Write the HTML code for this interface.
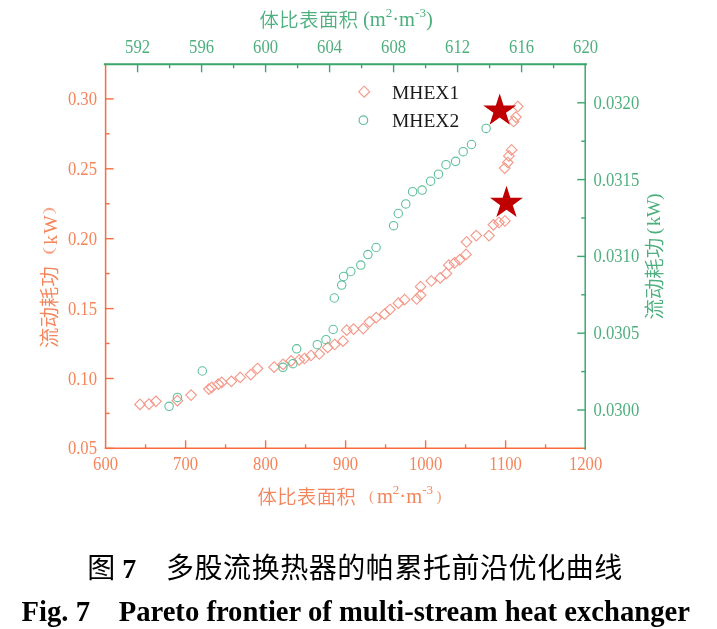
<!DOCTYPE html>
<html><head><meta charset="utf-8"><style>
html,body{margin:0;padding:0;background:#fff;width:717px;height:629px;overflow:hidden}
svg{display:block;will-change:transform}
</style></head><body>
<svg width="717" height="629" viewBox="0 0 717 629">
<g stroke-linecap="square">
<line x1="105.6" y1="448.3" x2="105.6" y2="64.3" stroke="#f96c3e" stroke-width="1.5"/>
<line x1="105.6" y1="448.3" x2="585.2" y2="448.3" stroke="#f96c3e" stroke-width="1.5"/>
<line x1="104.85" y1="64.3" x2="585.95" y2="64.3" stroke="#3aa76d" stroke-width="2"/>
<line x1="585.2" y1="64.3" x2="585.2" y2="449.05" stroke="#3aa76d" stroke-width="1.5"/>
</g>
<line x1="145.6" y1="448.3" x2="145.6" y2="444.3" stroke="#f96c3e" stroke-width="1.4"/>
<line x1="185.6" y1="448.3" x2="185.6" y2="440.3" stroke="#f96c3e" stroke-width="1.4"/>
<line x1="225.6" y1="448.3" x2="225.6" y2="444.3" stroke="#f96c3e" stroke-width="1.4"/>
<line x1="265.6" y1="448.3" x2="265.6" y2="440.3" stroke="#f96c3e" stroke-width="1.4"/>
<line x1="305.6" y1="448.3" x2="305.6" y2="444.3" stroke="#f96c3e" stroke-width="1.4"/>
<line x1="345.6" y1="448.3" x2="345.6" y2="440.3" stroke="#f96c3e" stroke-width="1.4"/>
<line x1="385.6" y1="448.3" x2="385.6" y2="444.3" stroke="#f96c3e" stroke-width="1.4"/>
<line x1="425.6" y1="448.3" x2="425.6" y2="440.3" stroke="#f96c3e" stroke-width="1.4"/>
<line x1="465.6" y1="448.3" x2="465.6" y2="444.3" stroke="#f96c3e" stroke-width="1.4"/>
<line x1="505.6" y1="448.3" x2="505.6" y2="440.3" stroke="#f96c3e" stroke-width="1.4"/>
<line x1="545.6" y1="448.3" x2="545.6" y2="444.3" stroke="#f96c3e" stroke-width="1.4"/>
<line x1="105.6" y1="448.4" x2="113.6" y2="448.4" stroke="#f96c3e" stroke-width="1.4"/>
<line x1="105.6" y1="413.4" x2="109.6" y2="413.4" stroke="#f96c3e" stroke-width="1.4"/>
<line x1="105.6" y1="378.5" x2="113.6" y2="378.5" stroke="#f96c3e" stroke-width="1.4"/>
<line x1="105.6" y1="343.5" x2="109.6" y2="343.5" stroke="#f96c3e" stroke-width="1.4"/>
<line x1="105.6" y1="308.6" x2="113.6" y2="308.6" stroke="#f96c3e" stroke-width="1.4"/>
<line x1="105.6" y1="273.6" x2="109.6" y2="273.6" stroke="#f96c3e" stroke-width="1.4"/>
<line x1="105.6" y1="238.7" x2="113.6" y2="238.7" stroke="#f96c3e" stroke-width="1.4"/>
<line x1="105.6" y1="203.7" x2="109.6" y2="203.7" stroke="#f96c3e" stroke-width="1.4"/>
<line x1="105.6" y1="168.8" x2="113.6" y2="168.8" stroke="#f96c3e" stroke-width="1.4"/>
<line x1="105.6" y1="133.8" x2="109.6" y2="133.8" stroke="#f96c3e" stroke-width="1.4"/>
<line x1="105.6" y1="98.9" x2="113.6" y2="98.9" stroke="#f96c3e" stroke-width="1.4"/>
<line x1="137.6" y1="64.3" x2="137.6" y2="72.3" stroke="#3aa76d" stroke-width="1.4"/>
<line x1="169.6" y1="64.3" x2="169.6" y2="68.3" stroke="#3aa76d" stroke-width="1.4"/>
<line x1="201.6" y1="64.3" x2="201.6" y2="72.3" stroke="#3aa76d" stroke-width="1.4"/>
<line x1="233.6" y1="64.3" x2="233.6" y2="68.3" stroke="#3aa76d" stroke-width="1.4"/>
<line x1="265.6" y1="64.3" x2="265.6" y2="72.3" stroke="#3aa76d" stroke-width="1.4"/>
<line x1="297.6" y1="64.3" x2="297.6" y2="68.3" stroke="#3aa76d" stroke-width="1.4"/>
<line x1="329.6" y1="64.3" x2="329.6" y2="72.3" stroke="#3aa76d" stroke-width="1.4"/>
<line x1="361.6" y1="64.3" x2="361.6" y2="68.3" stroke="#3aa76d" stroke-width="1.4"/>
<line x1="393.6" y1="64.3" x2="393.6" y2="72.3" stroke="#3aa76d" stroke-width="1.4"/>
<line x1="425.6" y1="64.3" x2="425.6" y2="68.3" stroke="#3aa76d" stroke-width="1.4"/>
<line x1="457.6" y1="64.3" x2="457.6" y2="72.3" stroke="#3aa76d" stroke-width="1.4"/>
<line x1="489.6" y1="64.3" x2="489.6" y2="68.3" stroke="#3aa76d" stroke-width="1.4"/>
<line x1="521.6" y1="64.3" x2="521.6" y2="72.3" stroke="#3aa76d" stroke-width="1.4"/>
<line x1="553.6" y1="64.3" x2="553.6" y2="68.3" stroke="#3aa76d" stroke-width="1.4"/>
<line x1="585.2" y1="410.0" x2="577.2" y2="410.0" stroke="#3aa76d" stroke-width="1.4"/>
<line x1="585.2" y1="371.6" x2="581.2" y2="371.6" stroke="#3aa76d" stroke-width="1.4"/>
<line x1="585.2" y1="333.2" x2="577.2" y2="333.2" stroke="#3aa76d" stroke-width="1.4"/>
<line x1="585.2" y1="294.8" x2="581.2" y2="294.8" stroke="#3aa76d" stroke-width="1.4"/>
<line x1="585.2" y1="256.4" x2="577.2" y2="256.4" stroke="#3aa76d" stroke-width="1.4"/>
<line x1="585.2" y1="218.0" x2="581.2" y2="218.0" stroke="#3aa76d" stroke-width="1.4"/>
<line x1="585.2" y1="179.6" x2="577.2" y2="179.6" stroke="#3aa76d" stroke-width="1.4"/>
<line x1="585.2" y1="141.2" x2="581.2" y2="141.2" stroke="#3aa76d" stroke-width="1.4"/>
<line x1="585.2" y1="102.8" x2="577.2" y2="102.8" stroke="#3aa76d" stroke-width="1.4"/>
<g font-family="Liberation Serif, serif" font-size="18.5">
<text transform="translate(105.6,470.0) scale(0.9,1)" text-anchor="middle" fill="#f4845a">600</text>
<text transform="translate(185.6,470.0) scale(0.9,1)" text-anchor="middle" fill="#f4845a">700</text>
<text transform="translate(265.6,470.0) scale(0.9,1)" text-anchor="middle" fill="#f4845a">800</text>
<text transform="translate(345.6,470.0) scale(0.9,1)" text-anchor="middle" fill="#f4845a">900</text>
<text transform="translate(425.6,470.0) scale(0.9,1)" text-anchor="middle" fill="#f4845a">1000</text>
<text transform="translate(505.6,470.0) scale(0.9,1)" text-anchor="middle" fill="#f4845a">1100</text>
<text transform="translate(585.6,470.0) scale(0.9,1)" text-anchor="middle" fill="#f4845a">1200</text>
<text transform="translate(97.0,454.4) scale(0.9,1)" text-anchor="end" fill="#f4845a">0.05</text>
<text transform="translate(97.0,384.5) scale(0.9,1)" text-anchor="end" fill="#f4845a">0.10</text>
<text transform="translate(97.0,314.6) scale(0.9,1)" text-anchor="end" fill="#f4845a">0.15</text>
<text transform="translate(97.0,244.7) scale(0.9,1)" text-anchor="end" fill="#f4845a">0.20</text>
<text transform="translate(97.0,174.8) scale(0.9,1)" text-anchor="end" fill="#f4845a">0.25</text>
<text transform="translate(97.0,104.9) scale(0.9,1)" text-anchor="end" fill="#f4845a">0.30</text>
<text transform="translate(137.6,53.0) scale(0.9,1)" text-anchor="middle" fill="#4caf7d">592</text>
<text transform="translate(201.6,53.0) scale(0.9,1)" text-anchor="middle" fill="#4caf7d">596</text>
<text transform="translate(265.6,53.0) scale(0.9,1)" text-anchor="middle" fill="#4caf7d">600</text>
<text transform="translate(329.6,53.0) scale(0.9,1)" text-anchor="middle" fill="#4caf7d">604</text>
<text transform="translate(393.6,53.0) scale(0.9,1)" text-anchor="middle" fill="#4caf7d">608</text>
<text transform="translate(457.6,53.0) scale(0.9,1)" text-anchor="middle" fill="#4caf7d">612</text>
<text transform="translate(521.6,53.0) scale(0.9,1)" text-anchor="middle" fill="#4caf7d">616</text>
<text transform="translate(585.6,53.0) scale(0.9,1)" text-anchor="middle" fill="#4caf7d">620</text>
<text transform="translate(593.5,416.0) scale(0.9,1)" text-anchor="start" fill="#4caf7d">0.0300</text>
<text transform="translate(593.5,339.2) scale(0.9,1)" text-anchor="start" fill="#4caf7d">0.0305</text>
<text transform="translate(593.5,262.4) scale(0.9,1)" text-anchor="start" fill="#4caf7d">0.0310</text>
<text transform="translate(593.5,185.6) scale(0.9,1)" text-anchor="start" fill="#4caf7d">0.0315</text>
<text transform="translate(593.5,108.8) scale(0.9,1)" text-anchor="start" fill="#4caf7d">0.0320</text>
</g>
<text x="259.6" y="27" font-family="Liberation Sans, Noto Sans CJK SC, sans-serif" font-weight="350" font-size="19.3" letter-spacing="0.5" fill="#4caf7d">体比表面积</text>
<text x="363" y="26.2" font-family="Liberation Serif, serif" font-size="20.5" fill="#4caf7d">(m<tspan font-size="13" dy="-9">2</tspan><tspan dy="9" >·m</tspan><tspan font-size="13" dy="-9">-3</tspan><tspan dy="9" >)</tspan></text>
<text x="257.5" y="503.8" font-family="Liberation Sans, Noto Sans CJK SC, sans-serif" font-weight="350" font-size="19.3" letter-spacing="0.5" fill="#f4845a">体比表面积</text>
<text x="368.9" y="501" font-family="Liberation Serif, serif" font-size="15" fill="#f59a78">(</text>
<text x="376.9" y="503.3" font-family="Liberation Serif, serif" font-size="20.5" fill="#f4845a">m<tspan font-size="13" dy="-9">2</tspan><tspan dy="9" >·m</tspan><tspan font-size="13" dy="-9">-3</tspan></text>
<text x="436.6" y="501" font-family="Liberation Serif, serif" font-size="15" fill="#f59a78">)</text>
<g transform="translate(56.5,348) rotate(-90)" fill="#f4845a"><text x="0" y="0" font-family="Liberation Sans, Noto Sans CJK SC, sans-serif" font-weight="350" font-size="20.4">流动耗功</text><text font-family="Liberation Serif, serif" font-size="15.5" transform="translate(93.2,-3.9) scale(1.5,1)" fill="#f6a283">(</text><text font-family="Liberation Serif, serif" font-size="15.5" transform="translate(133.6,-3.9) scale(1.5,1)" fill="#f6a283">)</text><text font-family="Liberation Serif, serif" font-size="19.5" y="0"><tspan x="103.3">k</tspan><tspan x="114.3">W</tspan></text></g>
<g transform="translate(660.1,319.5) rotate(-90)" fill="#4caf7d"><text x="0" y="2.3" font-family="Liberation Sans, Noto Sans CJK SC, sans-serif" font-weight="350" font-size="20.4">流动耗功</text><text font-family="Liberation Serif, serif" font-size="18.8" y="0"><tspan x="85.2">(</tspan><tspan x="93.6">k</tspan><tspan x="102.6">W</tspan><tspan x="119.8">)</tspan></text></g>
<g fill="none" stroke="#f4998a" stroke-width="1.1"><path d="M364.2 86.2L369.7 91.7L364.2 97.2L358.7 91.7Z"/></g>
<circle cx="363.4" cy="120.2" r="4.3" fill="none" stroke="#5ec09a" stroke-width="1.2"/>
<g font-family="Liberation Serif, serif" font-size="19.5" fill="#1a1a1a"><text x="392" y="99.2">MHEX1</text><text x="392" y="127">MHEX2</text></g>
<g fill="none" stroke="#f4998a" stroke-width="1.15">
<path d="M140.0 399.1L145.3 404.4L140.0 409.7L134.7 404.4Z"/>
<path d="M149.0 398.8L154.3 404.1L149.0 409.4L143.7 404.1Z"/>
<path d="M155.9 396.0L161.2 401.3L155.9 406.6L150.6 401.3Z"/>
<path d="M177.4 395.4L182.7 400.7L177.4 406.0L172.1 400.7Z"/>
<path d="M191.1 389.8L196.4 395.1L191.1 400.4L185.8 395.1Z"/>
<path d="M208.9 383.8L214.2 389.1L208.9 394.4L203.6 389.1Z"/>
<path d="M211.7 382.1L217.0 387.4L211.7 392.7L206.4 387.4Z"/>
<path d="M218.4 378.8L223.7 384.1L218.4 389.4L213.1 384.1Z"/>
<path d="M221.8 377.1L227.1 382.4L221.8 387.7L216.5 382.4Z"/>
<path d="M231.3 376.0L236.6 381.3L231.3 386.6L226.0 381.3Z"/>
<path d="M240.2 372.1L245.5 377.4L240.2 382.7L234.9 377.4Z"/>
<path d="M250.8 369.3L256.1 374.6L250.8 379.9L245.5 374.6Z"/>
<path d="M257.5 363.2L262.8 368.5L257.5 373.8L252.2 368.5Z"/>
<path d="M274.1 361.9L279.4 367.2L274.1 372.5L268.8 367.2Z"/>
<path d="M283.1 359.1L288.4 364.4L283.1 369.7L277.8 364.4Z"/>
<path d="M291.2 355.6L296.5 360.9L291.2 366.2L285.9 360.9Z"/>
<path d="M299.2 354.6L304.5 359.9L299.2 365.2L293.9 359.9Z"/>
<path d="M304.5 353.2L309.8 358.5L304.5 363.8L299.2 358.5Z"/>
<path d="M311.0 350.2L316.3 355.5L311.0 360.8L305.7 355.5Z"/>
<path d="M319.3 348.7L324.6 354.0L319.3 359.3L314.0 354.0Z"/>
<path d="M327.7 342.1L333.0 347.4L327.7 352.7L322.4 347.4Z"/>
<path d="M334.6 339.2L339.9 344.5L334.6 349.8L329.3 344.5Z"/>
<path d="M343.0 335.9L348.3 341.2L343.0 346.5L337.7 341.2Z"/>
<path d="M346.7 324.9L352.0 330.2L346.7 335.5L341.4 330.2Z"/>
<path d="M353.6 323.9L358.9 329.2L353.6 334.5L348.3 329.2Z"/>
<path d="M363.2 323.3L368.5 328.6L363.2 333.9L357.9 328.6Z"/>
<path d="M369.5 316.5L374.8 321.8L369.5 327.1L364.2 321.8Z"/>
<path d="M376.2 312.4L381.5 317.7L376.2 323.0L370.9 317.7Z"/>
<path d="M384.6 308.9L389.9 314.2L384.6 319.5L379.3 314.2Z"/>
<path d="M390.0 304.2L395.3 309.5L390.0 314.8L384.7 309.5Z"/>
<path d="M398.4 297.9L403.7 303.2L398.4 308.5L393.1 303.2Z"/>
<path d="M404.6 294.4L409.9 299.7L404.6 305.0L399.3 299.7Z"/>
<path d="M416.7 293.7L422.0 299.0L416.7 304.3L411.4 299.0Z"/>
<path d="M420.6 289.8L425.9 295.1L420.6 300.4L415.3 295.1Z"/>
<path d="M420.6 281.4L425.9 286.7L420.6 292.0L415.3 286.7Z"/>
<path d="M431.3 275.7L436.6 281.0L431.3 286.3L426.0 281.0Z"/>
<path d="M440.2 272.6L445.5 277.9L440.2 283.2L434.9 277.9Z"/>
<path d="M446.4 268.1L451.7 273.4L446.4 278.7L441.1 273.4Z"/>
<path d="M448.8 259.9L454.1 265.2L448.8 270.5L443.5 265.2Z"/>
<path d="M454.5 257.5L459.8 262.8L454.5 268.1L449.2 262.8Z"/>
<path d="M459.6 254.5L464.9 259.8L459.6 265.1L454.3 259.8Z"/>
<path d="M466.0 249.1L471.3 254.4L466.0 259.7L460.7 254.4Z"/>
<path d="M466.5 236.7L471.8 242.0L466.5 247.3L461.2 242.0Z"/>
<path d="M476.3 230.3L481.6 235.6L476.3 240.9L471.0 235.6Z"/>
<path d="M489.0 230.3L494.3 235.6L489.0 240.9L483.7 235.6Z"/>
<path d="M493.4 219.5L498.7 224.8L493.4 230.1L488.1 224.8Z"/>
<path d="M499.0 217.2L504.3 222.5L499.0 227.8L493.7 222.5Z"/>
<path d="M504.9 215.7L510.2 221.0L504.9 226.3L499.6 221.0Z"/>
<path d="M504.7 162.8L510.0 168.1L504.7 173.4L499.4 168.1Z"/>
<path d="M507.8 157.2L513.1 162.5L507.8 167.8L502.5 162.5Z"/>
<path d="M508.9 150.6L514.2 155.9L508.9 161.2L503.6 155.9Z"/>
<path d="M511.6 144.6L516.9 149.9L511.6 155.2L506.3 149.9Z"/>
<path d="M513.6 116.2L518.9 121.5L513.6 126.8L508.3 121.5Z"/>
<path d="M515.9 111.8L521.2 117.1L515.9 122.4L510.6 117.1Z"/>
<path d="M517.8 101.2L523.1 106.5L517.8 111.8L512.5 106.5Z"/>
</g>
<g fill="none" stroke="#5ec09a" stroke-width="1.1">
<circle cx="169.1" cy="406.3" r="4.2"/>
<circle cx="177.4" cy="397.4" r="4.2"/>
<circle cx="202.3" cy="371.0" r="4.2"/>
<circle cx="282.9" cy="367.3" r="4.2"/>
<circle cx="292.9" cy="363.7" r="4.2"/>
<circle cx="296.7" cy="348.8" r="4.2"/>
<circle cx="317.3" cy="344.7" r="4.2"/>
<circle cx="326.0" cy="339.7" r="4.2"/>
<circle cx="333.2" cy="329.5" r="4.2"/>
<circle cx="334.3" cy="298.0" r="4.2"/>
<circle cx="341.7" cy="285.1" r="4.2"/>
<circle cx="343.6" cy="276.5" r="4.2"/>
<circle cx="350.8" cy="271.5" r="4.2"/>
<circle cx="360.8" cy="265.1" r="4.2"/>
<circle cx="367.9" cy="254.6" r="4.2"/>
<circle cx="376.1" cy="247.5" r="4.2"/>
<circle cx="393.6" cy="225.7" r="4.2"/>
<circle cx="398.3" cy="213.5" r="4.2"/>
<circle cx="405.8" cy="203.9" r="4.2"/>
<circle cx="412.6" cy="191.7" r="4.2"/>
<circle cx="422.1" cy="190.1" r="4.2"/>
<circle cx="430.6" cy="181.2" r="4.2"/>
<circle cx="438.5" cy="174.2" r="4.2"/>
<circle cx="446.0" cy="164.7" r="4.2"/>
<circle cx="455.6" cy="161.3" r="4.2"/>
<circle cx="463.2" cy="151.7" r="4.2"/>
<circle cx="471.5" cy="144.5" r="4.2"/>
<circle cx="486.1" cy="128.4" r="4.2"/>
</g>
<polygon points="499.70,93.50 503.58,105.45 516.15,105.45 505.99,112.84 509.87,124.80 499.70,117.41 489.53,124.80 493.41,112.84 483.25,105.45 495.82,105.45" fill="#c00000"/>
<polygon points="506.50,185.80 510.38,197.75 522.95,197.75 512.79,205.14 516.67,217.10 506.50,209.71 496.33,217.10 500.21,205.14 490.05,197.75 502.62,197.75" fill="#c00000"/>
<text x="87.3" y="577.5" font-family="Liberation Serif, Noto Sans CJK SC, sans-serif" font-size="28" fill="#000">图 <tspan font-weight="bold">7</tspan><tspan x="166" letter-spacing="0.55">多股流换热器的帕累托前沿优化曲线</tspan></text>
<text x="21.6" y="621" font-family="Liberation Serif, Noto Sans CJK SC, serif" font-weight="bold" font-size="28.65" fill="#000">Fig. 7　Pareto frontier of multi-stream heat exchanger</text>
</svg>
</body></html>
